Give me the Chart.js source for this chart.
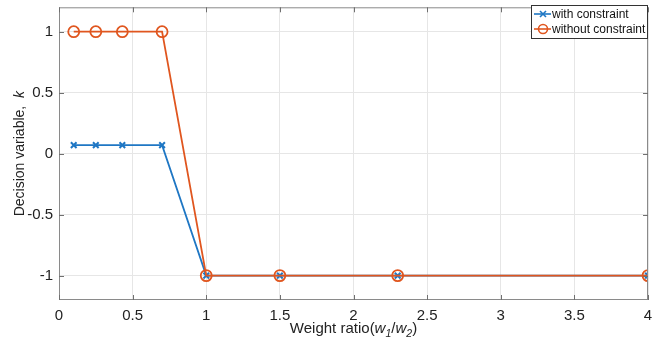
<!DOCTYPE html>
<html>
<head>
<meta charset="utf-8">
<script src="https://cdn.jsdelivr.net/npm/chart.js@4.4.1/dist/chart.umd.min.js"></script>
<style>
  html, body { margin: 0; padding: 0; background: #fff; }
  #wrap { width: 662px; height: 347px; position: relative; }
</style>
</head>
<body>
<div id="wrap"><canvas id="chart" width="662" height="347"></canvas></div>
<script>
const weightRatio = [0.1, 0.25, 0.43, 0.7, 1, 1.5, 2.3, 4];
const withConstraint = [0.07, 0.07, 0.07, 0.07, -1, -1, -1, -1];
const withoutConstraint = [1, 1, 1, 1, -1, -1, -1, -1];
const xTicks = [0, 0.5, 1, 1.5, 2, 2.5, 3, 3.5, 4];
const yTicks = [-1, -0.5, 0, 0.5, 1];
const seriesNames = ["with constraint", "without constraint"];

const blue = "#1f77c4";
const orange = "#e0561f";
const font = "'Liberation Sans', Arial, sans-serif";

function toPoints(xs, ys) {
  return xs.map((x, i) => ({ x: x, y: ys[i] }));
}

// draws text made of pieces: {t, italic, sub}
function drawRich(ctx, parts, size) {
  let w = 0;
  parts.forEach((p) => {
    ctx.font = (p.italic ? "italic " : "") + (p.sub ? size * 0.7 : size) + "px " + font;
    p.w = ctx.measureText(p.t).width;
    w += p.w;
  });
  let x = -w / 2;
  parts.forEach((p) => {
    ctx.font = (p.italic ? "italic " : "") + (p.sub ? size * 0.7 : size) + "px " + font;
    ctx.fillText(p.t, x, p.sub ? size * 0.35 : 0);
    x += p.w;
  });
}

const framePlugin = {
  id: "frame",
  afterDraw(chart) {
    const ctx = chart.ctx;
    const a = chart.chartArea;
    ctx.save();
    ctx.strokeStyle = "#8a8a8a";
    ctx.lineWidth = 1;
    ctx.strokeRect(a.left + 0.5, a.top + 0.5, a.right - a.left - 1, a.bottom - a.top - 1);

    // inward tick marks
    const xs = chart.scales.x, ys = chart.scales.y;
    ctx.strokeStyle = "#707070";
    ctx.beginPath();
    xTicks.forEach((v) => {
      const px = Math.round(xs.getPixelForValue(v)) + 0.5;
      ctx.moveTo(px, a.bottom); ctx.lineTo(px, a.bottom - 5);
      ctx.moveTo(px, a.top); ctx.lineTo(px, a.top + 5);
    });
    yTicks.forEach((v) => {
      const py = Math.round(ys.getPixelForValue(v)) + 0.5;
      ctx.moveTo(a.left, py); ctx.lineTo(a.left + 5, py);
      ctx.moveTo(a.right, py); ctx.lineTo(a.right - 5, py);
    });
    ctx.stroke();

    // axis titles
    ctx.fillStyle = "#222";
    ctx.textBaseline = "middle";
    ctx.save();
    ctx.translate((a.left + a.right) / 2, 329);
    drawRich(ctx, [
      { t: "Weight ratio(" }, { t: "w", italic: true }, { t: "1", italic: true, sub: true },
      { t: "/" }, { t: "w", italic: true }, { t: "2", italic: true, sub: true }, { t: ")" }
    ], 15);
    ctx.restore();
    ctx.save();
    ctx.translate(20, (a.top + a.bottom) / 2);
    ctx.rotate(-Math.PI / 2);
    drawRich(ctx, [{ t: "Decision variable,  " }, { t: "k", italic: true }], 14);
    ctx.restore();

    // legend box
    const lx = 531, ly = 5, lw = 116, lh = 33;
    ctx.fillStyle = "#fff";
    ctx.fillRect(lx, ly, lw, lh);
    ctx.strokeStyle = "#333";
    ctx.strokeRect(lx + 0.5, ly + 0.5, lw, lh);
    const colors = [blue, orange];
    seriesNames.forEach((name, i) => {
      const cy = ly + 9 + i * 15;
      ctx.strokeStyle = colors[i];
      ctx.lineWidth = 1.6;
      ctx.beginPath();
      ctx.moveTo(lx + 3, cy); ctx.lineTo(lx + 20, cy);
      ctx.stroke();
      ctx.beginPath();
      if (i === 0) {
        ctx.moveTo(lx + 9, cy - 3); ctx.lineTo(lx + 15, cy + 3);
        ctx.moveTo(lx + 15, cy - 3); ctx.lineTo(lx + 9, cy + 3);
      } else {
        ctx.arc(lx + 12, cy, 4.5, 0, Math.PI * 2);
      }
      ctx.stroke();
      ctx.fillStyle = "#111";
      ctx.font = "12px " + font;
      ctx.textBaseline = "middle";
      ctx.fillText(name, lx + 21, cy + 1);
    });
    ctx.restore();
  },
};

new Chart(document.getElementById("chart"), {
  type: "line",
  data: {
    datasets: [
      {
        label: seriesNames[0],
        data: toPoints(weightRatio, withConstraint),
        borderColor: blue,
        borderWidth: 1.8,
        pointStyle: "crossRot",
        pointRadius: 4,
        pointBorderColor: blue,
        pointBorderWidth: 2,
        order: 1,
      },
      {
        label: seriesNames[1],
        data: toPoints(weightRatio, withoutConstraint),
        borderColor: orange,
        borderWidth: 1.8,
        pointStyle: "circle",
        pointRadius: 5.5,
        pointBorderColor: orange,
        pointBackgroundColor: "rgba(0,0,0,0)",
        pointBorderWidth: 1.8,
        order: 0,
      },
    ],
  },
  options: {
    responsive: false,
    animation: false,
    devicePixelRatio: 1,
    layout: { padding: { top: 5, right: 14, left: 0, bottom: 0 } },
    plugins: { legend: { display: false }, tooltip: { enabled: false } },
    scales: {
      x: {
        type: "linear",
        min: 0,
        max: 4,
        afterBuildTicks: (s) => { s.ticks = xTicks.map((v) => ({ value: v })); },
        afterFit: (s) => { s.height = 47; s.paddingLeft = 0; s.paddingRight = 0; },
        grid: { color: "#e6e6e6", drawTicks: false },
        border: { display: false },
        ticks: { color: "#222", font: { family: font, size: 15 }, padding: 7, maxRotation: 0, callback: (v) => String(v) },
      },
      y: {
        type: "linear",
        min: -1.2,
        max: 1.2,
        afterBuildTicks: (s) => { s.ticks = yTicks.map((v) => ({ value: v })); },
        afterFit: (s) => { s.width = 59; s.paddingTop = 0; s.paddingBottom = 0; },
        grid: { color: "#e6e6e6", drawTicks: false },
        border: { display: false },
        ticks: { color: "#222", font: { family: font, size: 15 }, padding: 6, callback: (v) => String(v) },
      },
    },
  },
  plugins: [framePlugin],
});
</script>
</body>
</html>
